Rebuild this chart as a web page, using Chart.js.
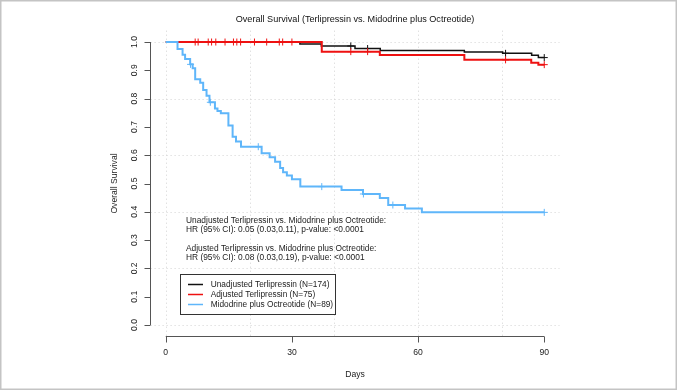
<!DOCTYPE html>
<html>
<head>
<meta charset="utf-8">
<script src="https://cdn.jsdelivr.net/npm/chart.js@4.4.1/dist/chart.umd.min.js"></script>
<style>
  html, body { margin: 0; padding: 0; background: #fff; }
  #km { display: block; }
</style>
</head>
<body>
<canvas id="km" width="677" height="390"></canvas>
<script>
/* ==========================
   DATA
========================== */
const chartTitle = "Overall Survival (Terlipressin vs. Midodrine plus Octreotide)";
const xTitle = "Days";
const yTitle = "Overall Survival";

const xTicks = [0, 30, 60, 90];
const yTicks = [0, 0.1, 0.2, 0.3, 0.4, 0.5, 0.6, 0.7, 0.8, 0.9, 1.0];
const xGrid = [0, 20, 40, 60, 80];
const yGrid = [0, 0.2, 0.4, 0.6, 0.8, 1.0];

const seriesNames = [
  "Unadjusted Terlipressin (N=174)",
  "Adjusted Terlipressin (N=75)",
  "Midodrine plus Octreotide (N=89)"
];

// step times (days) and survival after each step
const unadjDays = [0, 31.9, 37.0, 45.0, 51.0, 71.0, 80.1, 87.0, 88.6, 90];
const unadjSurv = [1, 0.993, 0.986, 0.977, 0.970, 0.965, 0.960, 0.953, 0.945, 0.945];
const unadjCensor = [44, 48, 80.8, 90];

const adjDays = [0, 37.1, 50.9, 71.0, 86.9, 88.6, 90];
const adjSurv = [1, 0.966, 0.954, 0.937, 0.927, 0.920, 0.920];
const adjCensor = [7.0, 7.7, 10.1, 10.9, 11.9, 14.1, 16.1, 16.9, 17.8, 21.1, 24.0, 27.0, 27.8, 30.0, 44, 48, 80.8, 90];

const midoDays = [0, 2.8, 4.0, 4.6, 5.8, 6.4, 7.0, 8.2, 8.9, 9.7, 10.4, 11.7, 12.3, 13.1, 14.9, 15.9, 16.7, 17.9,
  22.8, 24.7, 26.0, 27.2, 27.9, 28.8, 30.0, 32.0, 41.8, 46.9, 50.9, 52.9, 56.9, 60.9, 90];
const midoSurv = [1, 0.975, 0.955, 0.940, 0.921, 0.907, 0.868, 0.856, 0.830, 0.810, 0.787, 0.765, 0.756, 0.748, 0.705, 0.665, 0.648, 0.630,
  0.607, 0.593, 0.577, 0.555, 0.540, 0.528, 0.515, 0.489, 0.477, 0.463, 0.449, 0.424, 0.412, 0.398, 0.398];
const midoCensor = [5.9, 10.6, 22.0, 37.1, 47.0, 54.0, 90];

const annotation = [
  "Unadjusted Terlipressin vs. Midodrine plus Octreotide:",
  "HR (95% CI): 0.05 (0.03,0.11), p-value: <0.0001",
  "Adjusted Terlipressin vs. Midodrine plus Octreotide:",
  "HR (95% CI): 0.08 (0.03,0.19), p-value: <0.0001"
];

const colors = ["#111111", "#ee1111", "#5fb6fa"];

/* ==========================
   HELPERS
========================== */
const FONT = '"Liberation Sans", Arial, sans-serif';

function toPoints(days, surv) {
  return days.map((d, i) => ({ x: d, y: surv[i] }));
}

// y of a censor mark = curve value at that time
function censorPoints(days, surv, times) {
  return times.map(t => {
    let s = 1;
    days.forEach((d, i) => { if (d <= t) s = surv[i]; });
    return { x: t, y: s };
  });
}

function curve(label, days, surv, color, width, order) {
  return {
    type: "line", label: label, data: toPoints(days, surv),
    borderColor: color, borderWidth: width, stepped: "before",
    fill: false, pointRadius: 0, order: order
  };
}

function marks(days, surv, times, color, order) {
  return {
    type: "scatter", data: censorPoints(days, surv, times),
    borderColor: color, backgroundColor: color, pointStyle: "cross",
    pointRadius: 3.5, borderWidth: 1, order: order
  };
}

/* ==========================
   R-STYLE DECORATIONS
========================== */
const rStyle = {
  id: "rStyle",
  beforeDatasetsDraw(chart) {
    const ctx = chart.ctx, a = chart.chartArea;
    const sx = chart.scales.x, sy = chart.scales.y;
    ctx.save();
    ctx.strokeStyle = "#d3d3d3";
    ctx.lineWidth = 1;
    ctx.setLineDash([1, 3]);
    xGrid.forEach(v => {
      const x = Math.round(sx.getPixelForValue(v)) + 0.5;
      ctx.beginPath(); ctx.moveTo(x, a.top); ctx.lineTo(x, a.bottom); ctx.stroke();
    });
    yGrid.forEach(v => {
      const y = Math.round(sy.getPixelForValue(v)) + 0.5;
      ctx.beginPath(); ctx.moveTo(a.left, y); ctx.lineTo(a.right, y); ctx.stroke();
    });
    ctx.restore();
  },
  afterDraw(chart) {
    const ctx = chart.ctx, a = chart.chartArea;
    const sx = chart.scales.x, sy = chart.scales.y;
    ctx.save();

    // outer frame
    ctx.strokeStyle = "#c4c4c4";
    ctx.lineWidth = 1.5;
    ctx.strokeRect(0.75, 0.75, chart.width - 1.5, chart.height - 1.5);

    // axes
    ctx.strokeStyle = "#555";
    ctx.lineWidth = 1;
    const ax = Math.round(a.left) - 0.5;
    const ay = Math.round(a.bottom) + 0.5;
    ctx.beginPath();
    ctx.moveTo(ax, sy.getPixelForValue(0)); ctx.lineTo(ax, sy.getPixelForValue(1));
    ctx.moveTo(sx.getPixelForValue(0), ay); ctx.lineTo(sx.getPixelForValue(90), ay);
    yTicks.forEach(v => {
      const y = Math.round(sy.getPixelForValue(v)) + 0.5;
      ctx.moveTo(ax, y); ctx.lineTo(ax - 6, y);
    });
    xTicks.forEach(v => {
      const x = Math.round(sx.getPixelForValue(v)) + 0.5;
      ctx.moveTo(x, ay); ctx.lineTo(x, ay + 6);
    });
    ctx.stroke();

    // tick labels
    ctx.fillStyle = "#222";
    ctx.font = "8.6px " + FONT;
    ctx.textAlign = "center";
    ctx.textBaseline = "middle";
    xTicks.forEach(v => ctx.fillText(String(v), sx.getPixelForValue(v), 353));
    yTicks.forEach(v => {
      ctx.save();
      ctx.translate(135, sy.getPixelForValue(v));
      ctx.rotate(-Math.PI / 2);
      ctx.fillText(v.toFixed(1), 0, 0);
      ctx.restore();
    });

    // axis titles
    ctx.font = "8.6px " + FONT;
    ctx.fillText(xTitle, (a.left + a.right) / 2, 375);
    ctx.save();
    ctx.translate(115, (a.top + a.bottom) / 2);
    ctx.rotate(-Math.PI / 2);
    ctx.fillText(yTitle, 0, 0);
    ctx.restore();

    // main title
    ctx.fillStyle = "#111";
    ctx.font = "9.1px " + FONT;
    ctx.fillText(chartTitle, (a.left + a.right) / 2, 19);

    // HR text
    ctx.fillStyle = "#222";
    ctx.font = "8.4px " + FONT;
    ctx.textAlign = "left";
    const rows = [220.7, 229.7, 248.3, 257.3];
    annotation.forEach((t, i) => ctx.fillText(t, 186, rows[i]));

    // legend
    ctx.fillStyle = "#fff";
    ctx.fillRect(180.5, 274.5, 155, 40);
    ctx.strokeStyle = "#333";
    ctx.lineWidth = 1;
    ctx.strokeRect(180.5, 274.5, 155, 40);
    ctx.font = "8.3px " + FONT;
    seriesNames.forEach((name, i) => {
      const y = 284.5 + i * 10;
      ctx.strokeStyle = colors[i];
      ctx.lineWidth = 1.5;
      ctx.beginPath(); ctx.moveTo(188, y); ctx.lineTo(203, y); ctx.stroke();
      ctx.fillStyle = "#222";
      ctx.fillText(name, 210.7, y);
    });
    ctx.restore();
  }
};

/* ==========================
   CHART
========================== */
new Chart(document.getElementById("km"), {
  data: {
    datasets: [
      curve(seriesNames[0], unadjDays, unadjSurv, colors[0], 1.5, 6),
      curve(seriesNames[1], adjDays, adjSurv, colors[1], 2, 5),
      curve(seriesNames[2], midoDays, midoSurv, colors[2], 2, 4),
      marks(unadjDays, unadjSurv, unadjCensor, colors[0], 3),
      marks(adjDays, adjSurv, adjCensor, colors[1], 2),
      marks(midoDays, midoSurv, midoCensor, colors[2], 1)
    ]
  },
  options: {
    responsive: false,
    animation: false,
    devicePixelRatio: 1,
    layout: { padding: { left: 150.6, right: 117.6, top: 30.7, bottom: 53.7 } },
    scales: {
      x: { type: "linear", min: -3.6, max: 93.6, display: false },
      y: { type: "linear", min: -0.04, max: 1.04, display: false }
    },
    plugins: {
      legend: { display: false },
      tooltip: { enabled: false }
    }
  },
  plugins: [rStyle]
});
</script>
</body>
</html>
